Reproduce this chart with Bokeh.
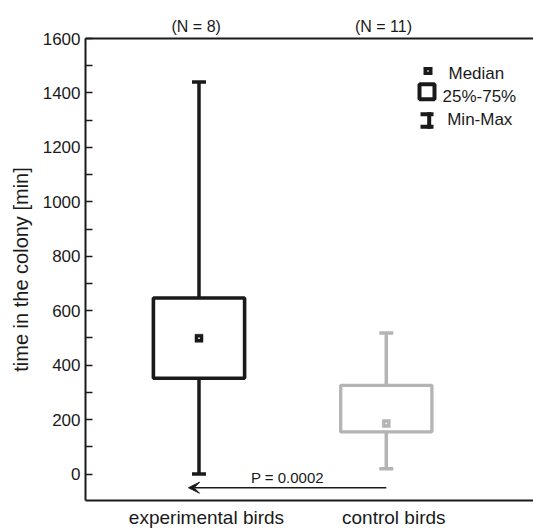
from bokeh.plotting import figure
from bokeh.models import (ColumnDataSource, FixedTicker, LinearAxis, Range1d,
                          Arrow, VeeHead, Label, BoxAnnotation)
from bokeh.embed import file_html
from bokeh.resources import INLINE

# ---------------- data ----------------
groups = ["experimental birds", "control birds"]
n_labels = ["(N = 8)", "(N = 11)"]
xpos = [1, 2]
min_vals = [0, 20]
q1_vals = [352, 155]
median_vals = [499, 186]
q3_vals = [647, 326]
max_vals = [1440, 518]
p_value_text = "P = 0.0002"
y_major = [0, 200, 400, 600, 800, 1000, 1200, 1400, 1600]
y_minor = [100, 300, 500, 700, 900, 1100, 1300, 1500]
legend_labels = ["Median", "25%-75%", "Min-Max"]

# ---------------- styles ----------------
colors = ["#1a1a1a", "#b4b4b4"]
box_lw = [3.6, 3.3]
FONT = "Liberation Sans"
TXT = "#1a1a1a"

p = figure(width=533, height=530,
           x_range=Range1d(0.394, 2.786), y_range=Range1d(-97, 1600),
           output_backend="svg", toolbar_location=None,
           x_axis_location=None, y_axis_location=None,
           min_border_left=85, min_border_right=0,
           min_border_top=38, min_border_bottom=29,
           outline_line_color=None,
           background_fill_color="white", border_fill_color="white")
p.grid.visible = False

# left axis
yax = LinearAxis(ticker=FixedTicker(ticks=y_major, minor_ticks=y_minor),
                 axis_label="time in the colony [min]")
yax.axis_line_width = 2
yax.axis_line_color = TXT
yax.major_tick_in = 7
yax.major_tick_out = 0
yax.minor_tick_in = 7
yax.minor_tick_out = 0
yax.major_tick_line_width = 1.3
yax.minor_tick_line_width = 1.3
yax.major_tick_line_color = TXT
yax.minor_tick_line_color = TXT
yax.major_label_standoff = 5
yax.major_label_text_font = FONT
yax.major_label_text_font_size = "17px"
yax.major_label_text_color = TXT
yax.axis_label_text_font = FONT
yax.axis_label_text_font_size = "20px"
yax.axis_label_text_font_style = "normal"
yax.axis_label_text_color = TXT
yax.axis_label_standoff = 8
p.add_layout(yax, "left")

# bottom axis with group names
xshift = 0.04
bticks = [x + xshift for x in xpos]
xax = LinearAxis(ticker=FixedTicker(ticks=bticks, minor_ticks=[]),
                 major_label_overrides={t: g for t, g in zip(bticks, groups)})
xax.axis_line_width = 2
xax.axis_line_color = TXT
xax.major_tick_line_color = None
xax.minor_tick_line_color = None
xax.major_tick_in = 0
xax.major_tick_out = 0
xax.major_label_standoff = 6
xax.major_label_text_font = FONT
xax.major_label_text_font_size = "19px"
xax.major_label_text_color = TXT
p.add_layout(xax, "below")

# top axis with sample sizes
tshift = -0.015
tticks = [x + tshift for x in xpos]
tax = LinearAxis(ticker=FixedTicker(ticks=tticks, minor_ticks=[]),
                 major_label_overrides={t: n for t, n in zip(tticks, n_labels)})
tax.axis_line_width = 2
tax.axis_line_color = TXT
tax.major_tick_line_color = None
tax.minor_tick_line_color = None
tax.major_tick_in = 0
tax.major_tick_out = 0
tax.major_label_standoff = 4
tax.major_label_text_font = FONT
tax.major_label_text_font_size = "16px"
tax.major_label_text_color = TXT
p.add_layout(tax, "above")

# ---------------- boxes ----------------
src = ColumnDataSource(dict(x=xpos, lo=min_vals, q1=q1_vals, med=median_vals,
                            q3=q3_vals, hi=max_vals, color=colors, lw=box_lw))

p.segment(x0="x", y0="q3", x1="x", y1="hi", line_color="color", line_width=3.5, source=src)
p.segment(x0="x", y0="q1", x1="x", y1="lo", line_color="color", line_width=3.5, source=src)
p.scatter(x="x", y="hi", marker="dash", size=14, line_width=3.5, line_color="color", source=src)
p.scatter(x="x", y="lo", marker="dash", size=14, line_width=3.5, line_color="color", source=src)
p.vbar(x="x", bottom="q1", top="q3", width=0.487, fill_color=None,
       line_color="color", line_width="lw", source=src)
p.scatter(x="x", y="med", marker="square", size=8, fill_color="color",
          line_color="color", line_width=0.5, source=src)
p.scatter(x="x", y="med", marker="square", size=1.6, fill_color="white",
          line_color=None, source=src)

# ---------------- significance arrow ----------------
arrow_y = -50
x_start = xpos[1]
x_end = xpos[0] - 0.056
p.add_layout(Arrow(x_start=x_start, y_start=arrow_y, x_end=x_end, y_end=arrow_y,
                   line_width=1.5, line_color=TXT,
                   end=VeeHead(size=11, fill_color=TXT, line_color=TXT, line_width=1)))
p.add_layout(Label(x=(x_start + x_end) / 2, y=-13, text=p_value_text,
                   text_align="center", text_baseline="middle",
                   text_font=FONT, text_font_size="15px", text_color=TXT))

# ---------------- legend (screen units) ----------------
def sbox(l, r, b, t, **kw):
    return BoxAnnotation(left=l, right=r, bottom=b, top=t,
                         left_units="screen", right_units="screen",
                         bottom_units="screen", top_units="screen", **kw)

# median icon
p.add_layout(sbox(338, 347, 425.5, 433.5, fill_color=TXT, fill_alpha=1, line_color=None))
p.add_layout(sbox(341.8, 343.2, 428.8, 430.2, fill_color="white", fill_alpha=1, line_color=None))
# quartile box icon
p.add_layout(sbox(334, 349, 401.3, 416.3, fill_alpha=0, line_color=TXT, line_alpha=1, line_width=4))
# min-max icon
p.add_layout(sbox(341.7, 345.7, 371.7, 388.3, fill_color=TXT, fill_alpha=1, line_color=None))
p.add_layout(sbox(335, 348, 384.3, 388.3, fill_color=TXT, fill_alpha=1, line_color=None))
p.add_layout(sbox(335, 348, 371.7, 375.7, fill_color=TXT, fill_alpha=1, line_color=None))

for (lx, ly), txt in zip([(363, 427), (357, 404.3), (361.7, 381)], legend_labels):
    p.add_layout(Label(x=lx, y=ly, x_units="screen", y_units="screen", text=txt,
                       text_baseline="middle", text_align="left",
                       text_font=FONT, text_font_size="17px", text_color=TXT))

open("out.html", "w").write(file_html(p, INLINE))
